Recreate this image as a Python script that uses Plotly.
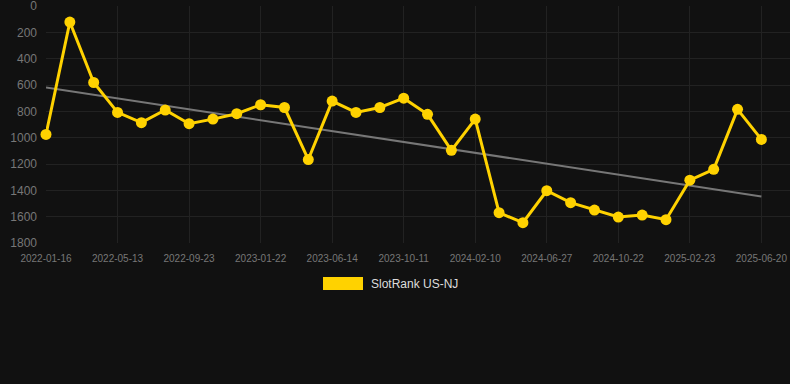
import plotly.graph_objects as go

dates = [
    "2022-01-16", "2022-02-24", "2022-04-04", "2022-05-13", "2022-06-27", "2022-08-10",
    "2022-09-23", "2022-11-02", "2022-12-12", "2023-01-22", "2023-03-09", "2023-04-26",
    "2023-06-14", "2023-07-24", "2023-09-01", "2023-10-11", "2023-11-21", "2024-01-01",
    "2024-02-10", "2024-03-27", "2024-05-12", "2024-06-27", "2024-08-04", "2024-09-12",
    "2024-10-22", "2024-12-03", "2025-01-13", "2025-02-23", "2025-04-01", "2025-05-10",
    "2025-06-20",
]
ranks = [975, 122, 581, 808, 886, 790, 894, 859, 818, 750, 771, 1166, 722, 808, 771,
         700, 823, 1096, 859, 1570, 1646, 1403, 1494, 1550, 1603, 1588, 1623, 1323,
         1240, 785, 1013]
trend_ends = [619, 1446]
tick_labels = dates[::3]
y_ticks = [0, 200, 400, 600, 800, 1000, 1200, 1400, 1600, 1800]
series_name = "SlotRank US-NJ"

YELLOW = "#FFD200"
BG = "#111111"

fig = go.Figure()
fig.add_trace(go.Scatter(
    x=[dates[0], dates[-1]], y=trend_ends, mode="lines",
    line=dict(color="#777777", width=2), showlegend=False, hoverinfo="skip",
    cliponaxis=False,
))
fig.add_trace(go.Scatter(
    x=dates, y=ranks, mode="lines+markers", name=series_name,
    line=dict(color=YELLOW, width=3),
    marker=dict(color=YELLOW, size=11),
    showlegend=False, cliponaxis=False,
))

W, H = 790, 384
L, R, T, B = 46, 0, 6, 141
pw, ph = W - L - R, H - T - B

def px(x):
    return (x - L) / pw

def py(y):
    return (H - B - y) / ph

fig.update_layout(
    width=W, height=H, autosize=False,
    margin=dict(l=L, r=R, t=T, b=B),
    paper_bgcolor=BG, plot_bgcolor=BG,
    font=dict(family="Arial, Liberation Sans, sans-serif", color="#777777"),
    xaxis=dict(
        type="category", categoryorder="array", categoryarray=dates,
        range=[0, 31.2],
        tickmode="array", tickvals=tick_labels, ticktext=tick_labels,
        tickfont=dict(size=10, color="#777777"),
        showgrid=True, gridcolor="#222222", gridwidth=1,
        zeroline=False, showline=False, ticks="", ticklen=0,
        ticklabelstandoff=8,
        ticklabeloverflow="allow",
    ),
    yaxis=dict(
        range=[1800, 0], tickvals=y_ticks,
        tickfont=dict(size=12, color="#777777"),
        showgrid=True, gridcolor="#222222", gridwidth=1,
        zeroline=False, showline=False, ticks="", ticklabelstandoff=8,
        ticklabeloverflow="allow",
    ),
    shapes=[dict(
        type="rect", xref="paper", yref="paper",
        x0=px(323), x1=px(363), y0=py(290), y1=py(277),
        fillcolor=YELLOW, line=dict(width=0),
    )],
    annotations=[dict(
        text=series_name, xref="paper", yref="paper",
        x=px(369), y=py(284), xanchor="left", yanchor="middle",
        showarrow=False, font=dict(size=12, color="#dddddd"),
    )],
)

fig.write_html(
    "out.html",
    config={"displayModeBar": False},
    post_script="document.body.style.margin='0';document.body.style.background='#111111';",
)
